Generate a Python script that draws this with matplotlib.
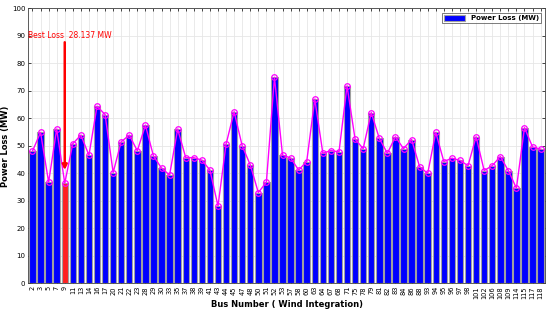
import matplotlib
matplotlib.use("Agg")
import matplotlib.pyplot as plt
import numpy as np

buses = [2, 3, 5, 7, 9, 11, 13, 14, 16, 17, 20, 21, 22, 23, 28, 29, 30, 33, 35, 37,
         38, 39, 41, 43, 44, 45, 47, 48, 50, 51, 52, 53, 57, 58, 60, 63, 64, 67, 68, 71,
         75, 78, 79, 81, 82, 83, 84, 86, 88, 93, 94, 95, 96, 97, 98, 101, 102, 106, 108, 109,
         114, 115, 117, 118]
loss = [48.1, 54.9, 36.8, 56.1, 36.4, 50.8, 53.9, 46.6, 64.4, 61.4, 40.3, 51.5, 53.9, 48.2, 57.5,
        46.3, 41.9, 39.4, 56.1, 45.7, 45.7, 44.8, 41.2, 28.1, 50.6, 62.4, 50.0, 43.1, 33.0, 36.8,
        74.9, 46.6, 45.6, 41.2, 44.3, 67.0, 47.3, 48.3, 47.8, 71.8, 52.4, 49.0, 62.1, 52.7, 47.3,
        53.3, 49.0, 52.3, 42.4, 40.0, 54.9, 44.3, 45.5, 44.7, 42.8, 53.3, 41.0, 42.8, 46.1, 41.0,
        34.6, 56.6, 49.6, 48.8]
best_bus = 9
best_text = "Best Loss  28.137 MW"


def main():
    fig = plt.figure(figsize=(5.5, 3.12), dpi=100)
    ax = fig.add_axes([0.051, 0.092, 0.94, 0.881])
    x = np.arange(len(buses))
    colors = ['#ff2020' if b == best_bus else '#0000ff' for b in buses]
    ax.bar(x, loss, width=0.8, color=colors, edgecolor='#a0a0a0', linewidth=0.8,
           label='Power Loss (MW)', zorder=2)
    ax.plot(x, loss, '-o', color='#ff00ff', markerfacecolor='none', markersize=4,
            linewidth=1.0, markeredgewidth=0.9, zorder=3)

    i = buses.index(best_bus)
    ax.annotate('', xy=(i, 40.2), xytext=(i, 88.7),
                arrowprops=dict(arrowstyle='-|>', color='red', lw=1.8, mutation_scale=7),
                zorder=4)
    ax.text(-0.5, 90, best_text, color='red', fontsize=5.5, va='center', ha='left', zorder=4)

    ax.set_xlim(-0.55, len(buses) - 0.45)
    ax.set_ylim(0, 100)
    ax.set_xticks(x)
    ax.set_xticklabels([str(b) for b in buses], rotation=90, fontsize=4.8)
    ax.set_yticks(np.arange(0, 101, 10))
    ax.tick_params(axis='y', labelsize=5)
    ax.tick_params(direction='in', top=True, right=True, length=2.5, width=0.5, pad=2)
    ax.grid(True, color='#e6e6e6', linewidth=0.6, zorder=0)
    ax.set_axisbelow(True)
    for s in ax.spines.values():
        s.set_linewidth(0.6)
        s.set_color('#404040')

    ax.set_xlabel("Bus Number ( Wind Integration)", fontsize=6, fontweight='bold', labelpad=1)
    ax.set_ylabel("Power Loss (MW)", fontsize=6, fontweight='bold', labelpad=1)
    leg = ax.legend(loc='upper right', prop={'weight': 'bold', 'size': 5},
                    fancybox=False, edgecolor='#404040', handlelength=3, handleheight=1.0,
                    borderpad=0.3, borderaxespad=0.6)
    leg.get_frame().set_linewidth(0.6)

    fig.savefig('out.png', dpi=100)
    plt.close(fig)


if __name__ == "__main__":
    main()
